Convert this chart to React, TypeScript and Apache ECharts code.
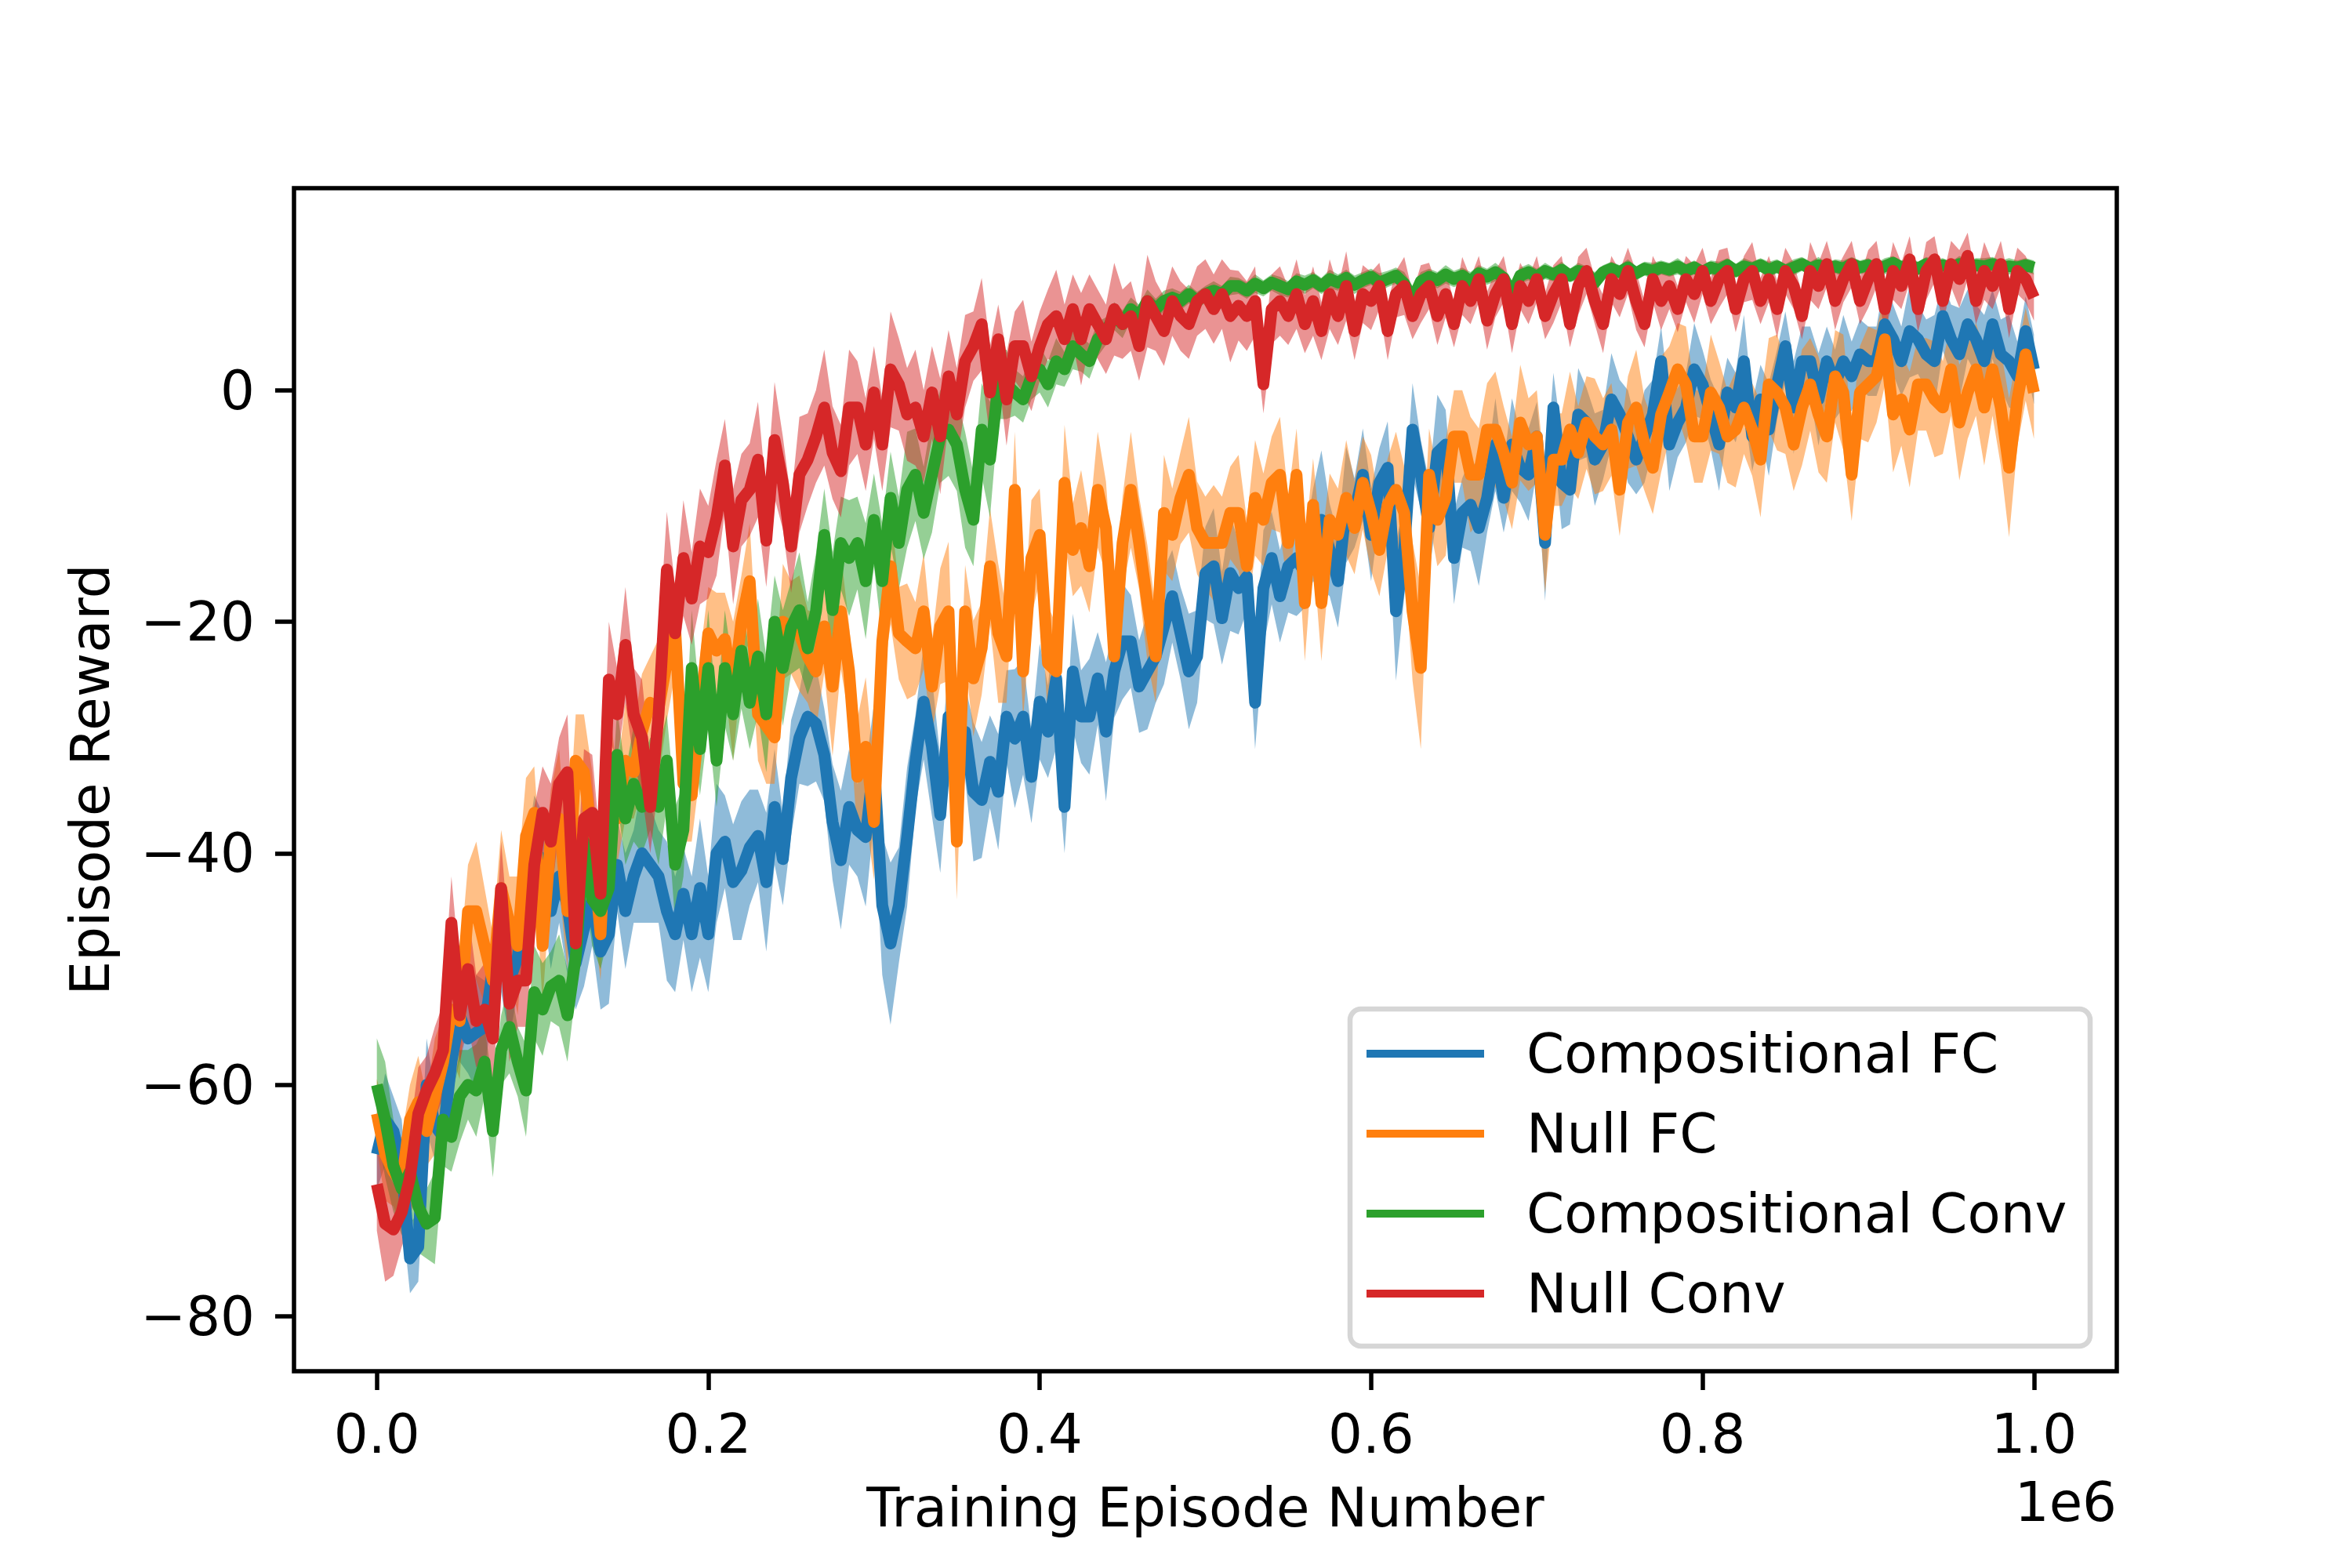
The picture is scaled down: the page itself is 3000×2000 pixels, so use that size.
import React, { useEffect, useRef } from 'react';
import * as echarts from 'echarts';

// Episode numbers: 0 .. 1,000,000 in steps of 5,000
const episodes: number[] = Array.from({ length: 201 }, (_, i) => i * 5000);

const seriesNames = ['Compositional FC', 'Null FC', 'Compositional Conv', 'Null Conv'];
const lineColors = ['#1f77b4', '#ff7f0e', '#2ca02c', '#d62728'];
const bandColors = ['rgba(31,119,180,0.5)', 'rgba(255,127,14,0.5)', 'rgba(44,160,44,0.5)', 'rgba(214,39,40,0.5)'];

const xTicks = [0, 200000, 400000, 600000, 800000, 1000000];
const yTicks = [-80, -60, -40, -20, 0];

// Compositional FC (blue) mean reward
const compFC: number[] = [
  -66, -63, -64, -67, -75, -74, -60, -63.5, -64.5, -58,
  -54, -56, -55.5, -55, -50, -48, -51, -49, -44, -40,
  -40.5, -45, -42, -44.5, -49.5, -46.5, -44, -48.5, -47, -41,
  -45, -42, -40, -41, -42, -45, -47, -43.5, -47, -43,
  -47, -40, -39, -42.5, -41.5, -39.5, -38.5, -42.5, -36, -40.5,
  -33.5, -30, -28.2, -28.8, -31.5, -37.3, -40.6, -36, -38, -38.6,
  -32.1, -44.5, -47.8, -44.5, -38.6, -32.1, -26.9, -30.8, -36.7, -28.2,
  -34.1, -29.5, -34.7, -35.4, -32.1, -34.7, -28.2, -30.1, -28.2, -33.4,
  -26.9, -29.5, -24.9, -36, -24.3, -28.2, -28.2, -24.9, -29.5, -24.3,
  -21.7, -21.7, -25.6, -24.3, -23, -20.4, -17.8, -21, -24.3, -23,
  -15.8, -15.2, -19.7, -15.8, -17.1, -16.1, -27, -17.1, -14.5, -17.8,
  -15.2, -14.5, -15.8, -12.5, -11.2, -13.8, -16.5, -9.9, -10.6, -7.3,
  -12.5, -8, -6.7, -19.1, -13.8, -3.4, -7.3, -11.9, -5.4, -4.7,
  -14.5, -10.6, -9.9, -11.9, -9.3, -4.7, -9.3, -4.7, -6.7, -7.3,
  -4, -13.2, -1.5, -8, -8.6, -2.1, -2.8, -6, -4.7, -0.8,
  -2.1, -4, -6, -4, -2.1, 2.5, -4.7, -2.8, -1.5, 1.8,
  0.5, -2.1, -4.7, -0.2, -1.5, 2.5, -4, -0.8, -3.4, 0.5,
  3.8, -1.5, 2.5, 2.5, -0.8, 2.5, 0.5, 2.5, 1.2, 3.1,
  2.5, 2.5, 5.7, 4.4, 2.5, 5.1, 4.4, 3.1, 2.5, 6.4,
  4.4, 3.1, 5.7, 4.4, 2.5, 5.7, 3.1, 2.5, 1.2, 5.1,
  1.8,
];
const compFCStd: number[] = [
  3, 4, 3, 4, 3, 3, 4, 3, 4, 3,
  4, 3, 5, 4, 3, 4, 5, 3, 4, 5,
  4, 5, 4, 6, 4, 5, 4, 5, 6, 4,
  5, 4, 6, 5, 4, 6, 5, 4, 5, 6,
  5, 6, 4, 5, 6, 5, 4, 6, 5, 4,
  5, 4, 6, 5, 4, 5, 6, 5, 4, 6,
  5, 6, 7, 5, 6, 4, 5, 6, 5, 4,
  5, 4, 6, 5, 4, 5, 4, 6, 5, 4,
  5, 4, 6, 4, 5, 4, 5, 4, 6, 4,
  5, 4, 4, 5, 4, 5, 4, 4, 5, 4,
  4, 5, 4, 5, 4, 3, 4, 5, 4, 4,
  4, 5, 3, 4, 6, 4, 4, 5, 3, 4,
  4, 3, 4, 6, 4, 4, 3, 4, 5, 3,
  4, 3, 4, 5, 3, 4, 3, 4, 3, 4,
  3, 5, 3, 4, 3, 4, 3, 4, 3, 4,
  3, 4, 3, 4, 3, 3, 4, 3, 3, 4,
  3, 3, 4, 3, 3, 4, 3, 3, 4, 3,
  3, 4, 3, 3, 4, 3, 3, 4, 3, 3,
  3, 3, 4, 3, 3, 4, 3, 3, 4, 3,
  3, 4, 3, 3, 4, 3, 3, 4, 3, 3,
  3,
];

// Null FC (orange) mean reward
const nullFC: number[] = [
  -62.5, -66, -67.5, -68.5, -63, -61.5, -64, -61, -58, -53.5,
  -54.5, -45, -45, -48, -51, -43, -46, -48, -38.5, -36.5,
  -48, -38.5, -37, -45, -32, -33, -39, -47, -32, -37,
  -32, -33, -29.5, -27, -27.5, -23.5, -20.5, -34, -35, -28,
  -21, -22.5, -21.5, -26, -20, -16.5, -28, -29, -30, -20,
  -20.5, -21, -23, -24.3, -20.4, -25.6, -19.1, -24.3, -33.4, -30.8,
  -37.3, -21.7, -15.2, -21, -21.7, -22.3, -19.1, -25.6, -20.4, -19.1,
  -39, -19.1, -24.9, -22.3, -15.2, -21, -23, -8.6, -24.3, -14.5,
  -12.5, -23.6, -24.3, -8, -13.8, -11.9, -15.2, -8.6, -11.9, -23,
  -13.2, -8.6, -13.2, -18.4, -23, -10.6, -12.5, -9.3, -7.3, -11.9,
  -13.2, -13.2, -13.2, -10.6, -10.6, -15.2, -9.3, -11.2, -8, -7.3,
  -13.2, -7.3, -18.4, -9.9, -18.4, -11.2, -12.5, -9.3, -11.9, -8,
  -10.6, -13.8, -9.9, -8.6, -10.6, -19.1, -24, -7.3, -11.2, -9.3,
  -4, -4, -7.3, -7.3, -3.4, -3.4, -5.4, -8, -2.8, -4.7,
  -4, -12.5, -6, -6, -3.4, -5.4, -2.8, -4, -4.7, -3.4,
  -8.6, -2.8, -1.5, -4.7, -6.7, -2.1, -0.2, 1.8, 0.5, -4,
  -4, -0.2, -1.5, -4, -3.4, -1.5, -3.4, -6, 0.5, -0.2,
  -1.5, -4.7, -1.5, 0.5, -2.1, -4, 1.2, -0.2, -7.3, -0.2,
  0.5, 1.2, 4.4, -2.1, -0.8, -3.4, 0.5, 0.5, -0.8, -1.5,
  1.8, -2.8, -0.2, 1.8, -1.5, 1.8, -1.5, -6.7, -0.8, 3.1,
  -0.2,
];
const nullFCStd: number[] = [
  3, 4, 3, 4, 3, 4, 3, 5, 4, 4,
  5, 4, 6, 5, 4, 5, 4, 6, 5, 4,
  5, 4, 6, 5, 4, 5, 6, 4, 5, 4,
  5, 4, 5, 4, 6, 5, 4, 5, 4, 5,
  4, 5, 4, 6, 4, 5, 4, 5, 4, 5,
  4, 5, 4, 5, 4, 6, 5, 4, 5, 6,
  5, 4, 5, 4, 5, 4, 5, 4, 5, 6,
  5, 4, 5, 4, 5, 6, 4, 5, 4, 5,
  4, 5, 4, 5, 4, 5, 4, 5, 4, 5,
  4, 5, 4, 5, 4, 5, 4, 4, 5, 4,
  4, 5, 4, 4, 5, 4, 5, 4, 4, 5,
  4, 4, 5, 4, 5, 4, 4, 5, 4, 4,
  5, 4, 4, 5, 4, 6, 7, 4, 4, 5,
  4, 4, 5, 4, 4, 5, 4, 4, 5, 4,
  4, 5, 4, 4, 5, 4, 4, 5, 4, 4,
  4, 4, 5, 4, 4, 5, 4, 4, 5, 4,
  4, 5, 4, 4, 5, 4, 4, 5, 4, 5,
  4, 4, 5, 4, 5, 4, 4, 5, 4, 4,
  5, 4, 4, 5, 4, 5, 4, 4, 5, 4,
  4, 5, 4, 4, 5, 4, 5, 6, 4, 4,
  4,
];

// Compositional Conv (green) mean reward
const compConv: number[] = [
  -60, -63, -67, -69, -67.5, -70.5, -72, -71.5, -63, -64.5,
  -61, -60, -60.5, -58, -64, -57, -55, -58, -60.5, -52,
  -53.5, -51.5, -51, -54, -49, -39, -44, -45, -43, -31.5,
  -37, -34, -36, -34, -36, -32, -41, -38, -24, -31,
  -24, -32, -24, -28, -22.5, -27, -23, -28, -20, -24,
  -20.5, -19, -22.3, -19.1, -12.5, -19, -13.2, -14.5, -13.2, -16.5,
  -11.2, -16.5, -9.3, -13.2, -8.6, -7.3, -10.6, -7.3, -4, -3.4,
  -4.7, -8.6, -11.2, -3.4, -6, 0.5, 0.5, -0.2, -0.8, 1.2,
  1.8, 0.5, 2.5, 1.8, 3.8, 3.1, 2.5, 4.4, 5.1, 6.4,
  5.7, 7, 6.4, 7.7, 7, 7.7, 8, 7.7, 8.3, 7.7,
  8.3, 8.6, 8.3, 9, 9, 8.6, 9.2, 8.8, 9.3, 9,
  8.7, 9.4, 9.1, 9.5, 9, 9.6, 9.3, 9.7, 9.1, 9.5,
  9.8, 9.3, 9.6, 9.9, 9.2, 7.8, 9.4, 9.8, 9.5, 10,
  9.6, 9.9, 9.4, 10.1, 9.8, 10.2, 9.7, 8.3, 9.9, 10.2,
  9.8, 10.3, 10, 10.4, 9.9, 10.3, 10.1, 9.3, 10.2, 10.5,
  10.2, 10.6, 10.1, 10.5, 10.3, 10.6, 10.4, 10.7, 10.3, 10.6,
  10.2, 10.6, 10.4, 10.8, 10.3, 10.7, 10.5, 10.8, 10.4, 10.7,
  10.3, 10.6, 10.9, 10.5, 10.8, 10.4, 10.7, 10.5, 10.9, 10.6,
  10.8, 10.4, 10.7, 11, 10.6, 10.8, 10.5, 10.9, 10.6, 10.8,
  10.5, 10.9, 10.6, 10.8, 10.7, 10.9, 10.6, 10.7, 10.6, 10.8,
  10.6,
];
const compConvStd: number[] = [
  4, 5, 4, 4, 3, 4, 3, 4, 4, 3,
  4, 3, 4, 3, 4, 3, 4, 3, 4, 4,
  4, 3, 4, 4, 3, 4, 4, 5, 4, 4,
  4, 5, 4, 4, 5, 4, 5, 4, 5, 4,
  5, 4, 5, 4, 5, 4, 5, 5, 4, 5,
  4, 5, 4, 5, 4, 5, 4, 5, 4, 5,
  4, 5, 4, 4, 5, 4, 4, 5, 4, 4,
  4, 5, 4, 4, 5, 3, 3, 2, 2, 2,
  2, 2, 2, 1.5, 2, 1.5, 1.5, 1.5, 1.2, 1.2,
  1.2, 1, 1, 1, 0.9, 0.9, 0.8, 0.8, 0.8, 0.8,
  0.7, 0.8, 0.7, 0.8, 0.7, 0.7, 0.8, 0.7, 0.7, 0.8,
  0.7, 0.7, 0.8, 0.7, 0.7, 0.8, 0.7, 0.7, 0.8, 0.7,
  0.7, 0.8, 0.7, 0.7, 1, 1.2, 0.8, 0.7, 0.7, 0.8,
  0.7, 0.7, 0.8, 0.7, 0.7, 0.8, 0.7, 1, 0.7, 0.7,
  0.7, 0.7, 0.6, 0.7, 0.6, 0.7, 0.6, 0.9, 0.6, 0.6,
  0.6, 0.7, 0.6, 0.6, 0.7, 0.6, 0.6, 0.7, 0.6, 0.6,
  0.6, 0.6, 0.7, 0.6, 0.6, 0.7, 0.6, 0.6, 0.7, 0.6,
  0.6, 0.7, 0.6, 0.6, 0.7, 0.6, 0.6, 0.7, 0.6, 0.6,
  0.6, 0.6, 0.7, 0.6, 0.6, 0.7, 0.6, 0.6, 0.7, 0.6,
  0.6, 0.7, 0.6, 0.6, 0.7, 0.6, 0.6, 0.7, 0.6, 0.6,
  0.6,
];

// Null Conv (red) mean reward
const nullConv: number[] = [
  -68.6, -72, -72.5, -71, -68, -62.5, -60.5, -59, -57, -46,
  -54, -50, -54.5, -53.5, -56, -43, -53, -51, -51, -41,
  -36.5, -39, -34, -33, -47.8, -37, -36.5, -43.5, -25, -28,
  -22, -28, -30, -36, -28, -15.5, -21, -14.5, -18, -13.5,
  -14, -11, -6.5, -13.5, -9.5, -8.6, -6, -13, -4.3, -8,
  -13.5, -7.3, -6, -4, -1.5, -5.4, -7, -1.5, -1.5, -4.7,
  -0.2, -4.7, 1.8, 0.5, -2.1, -1.5, -4, -0.2, -4, 1.2,
  -2.1, 2.5, 3.8, 5.7, -0.2, 4.4, -0.8, 3.8, 3.8, 1.2,
  3.8, 5.7, 6.4, 4.4, 7, 4.4, 7, 5.7, 4.4, 7,
  5.7, 6.4, 3.8, 7.7, 6.4, 5.1, 7.7, 6.4, 5.7, 7.7,
  8.3, 7, 8.3, 6.4, 7.3, 6.4, 7.7, 0.5, 7, 7.7,
  6.4, 8.3, 5.7, 7.7, 5.1, 8.3, 6.4, 9, 5.1, 8.3,
  7.7, 9, 5.1, 8.3, 9, 6.4, 8.3, 9, 6.4, 8.3,
  5.7, 9, 7.7, 9.6, 6, 8.3, 9.6, 5.7, 9, 7.7,
  9.6, 6.4, 8.3, 9.6, 5.7, 9, 10.3, 7.7, 5.7, 9.6,
  8.3, 10.3, 7.7, 5.7, 9.6, 7.7, 9, 7, 9.6, 8.3,
  10.3, 7.7, 9.6, 10.3, 7, 9.6, 10.3, 7.7, 9.6, 7,
  10.3, 9, 6.4, 10.3, 9, 10.9, 7.7, 9.6, 10.9, 7.7,
  9.6, 10.9, 7, 10.3, 9, 11.3, 7, 10.3, 11.3, 7.7,
  10.9, 9.6, 11.6, 7.7, 10.3, 9, 10.9, 7, 10.3, 9.6,
  8,
];
const nullConvStd: number[] = [
  4, 5, 4, 3, 4, 4, 3, 4, 4, 4,
  4, 5, 4, 4, 5, 4, 5, 4, 4, 5,
  4, 5, 4, 5, 4, 6, 5, 4, 5, 4,
  5, 4, 5, 4, 6, 5, 4, 5, 4, 5,
  4, 5, 4, 5, 4, 4, 5, 4, 5, 4,
  4, 5, 4, 4, 5, 4, 4, 5, 4, 4,
  4, 4, 5, 4, 4, 5, 4, 4, 5, 4,
  4, 4, 3, 4, 4, 3, 4, 3, 4, 3,
  3, 3, 4, 3, 3, 4, 3, 3, 3, 4,
  3, 3, 3, 4, 3, 3, 3, 3, 3, 3,
  3, 3, 3, 4, 3, 3, 3, 2.5, 3, 3,
  2.5, 3, 2.5, 3, 2.5, 3, 2.5, 3, 2.5, 2.5,
  2.5, 2, 2.5, 2, 2.5, 2, 2.5, 2, 2.5, 2,
  2, 2.5, 2, 2, 2.5, 2, 2, 2.5, 2, 2,
  2, 2, 2.5, 2, 2, 2.5, 2, 2, 2.5, 2,
  2, 2, 2.5, 2, 2, 2.5, 2, 2, 2, 2.5,
  2, 2, 2.5, 2, 2, 2, 2.5, 2, 2, 2.5,
  2, 2, 2, 2.5, 2, 2, 2.5, 2, 2, 2,
  2.5, 2, 2, 2.5, 2, 2, 2, 2.5, 2, 2,
  2, 2.5, 2, 2, 2.5, 2, 2, 2.5, 2, 2,
  2,
];

const means = [compFC, nullFC, compConv, nullConv];
const stds = [compFCStd, nullFCStd, compConvStd, nullConvStd];

const FONT = 'DejaVu Sans';
const FS = 69;

function minus(v: number): string {
  return v < 0 ? '\u2212' + Math.abs(v) : String(v);
}

function bandSeries(idx: number) {
  const mean = means[idx];
  const sd = stds[idx];
  return {
    type: 'custom',
    name: seriesNames[idx] + ' band',
    silent: true,
    z: 1,
    clip: true,
    data: [[0, 0]],
    renderItem: (_params: any, api: any) => {
      const upper = mean.map((m, i) => api.coord([episodes[i], m + sd[i]]));
      const lower = mean.map((m, i) => api.coord([episodes[i], m - sd[i]])).reverse();
      return {
        type: 'polygon',
        shape: { points: upper.concat(lower) },
        style: { fill: bandColors[idx], stroke: 'none' },
      };
    },
  };
}

function lineSeries(idx: number) {
  return {
    type: 'line',
    name: seriesNames[idx],
    data: means[idx].map((m, i) => [episodes[i], m]),
    showSymbol: false,
    symbol: 'none',
    silent: true,
    z: 2,
    lineStyle: { width: 15, color: lineColors[idx], join: 'round', cap: 'butt' },
    itemStyle: { color: lineColors[idx] },
  };
}

export default function App() {
  const ref = useRef<HTMLDivElement>(null);
  useEffect(() => {
    if (!ref.current) return;
    const chart = echarts.init(ref.current, undefined, { renderer: 'svg' });
    const option: any = {
      animation: false,
      backgroundColor: '#ffffff',
      grid: {
        show: true,
        left: 375,
        right: 300,
        top: 240,
        bottom: 251,
        borderColor: '#000000',
        borderWidth: 5.5,
        backgroundColor: 'transparent',
      },
      xAxis: {
        type: 'value',
        min: -50000,
        max: 1050000,
        axisLine: { show: false, onZero: false },
        splitLine: { show: false },
        axisTick: {
          show: true,
          inside: false,
          length: 24,
          customValues: xTicks,
          lineStyle: { color: '#000', width: 5.5 },
        },
        axisLabel: {
          customValues: xTicks,
          margin: 45,
          fontSize: FS,
          fontFamily: FONT,
          color: '#000',
          formatter: (v: number) => (v / 1e6).toFixed(1),
        },
      },
      yAxis: {
        type: 'value',
        min: -84.74,
        max: 17.45,
        axisLine: { show: false, onZero: false },
        splitLine: { show: false },
        axisTick: {
          show: true,
          inside: false,
          length: 24,
          customValues: yTicks,
          lineStyle: { color: '#000', width: 5.5 },
        },
        axisLabel: {
          customValues: yTicks,
          margin: 50,
          fontSize: FS,
          fontFamily: FONT,
          color: '#000',
          formatter: (v: number) => minus(v),
        },
      },
      legend: {
        data: seriesNames,
        orient: 'vertical',
        left: 1743,
        top: 1304,
        padding: 0,
        itemWidth: 150,
        itemHeight: 10,
        itemGap: 22,
        icon: 'rect',
        selectedMode: false,
        z: 10,
        textStyle: {
          fontSize: FS,
          fontFamily: FONT,
          color: '#000',
          lineHeight: 80,
          padding: [0, 0, 0, 49],
        },
      },
      graphic: [
        {
          type: 'rect',
          z: 5,
          shape: { x: 1722, y: 1287, width: 944, height: 430, r: 14 },
          style: { fill: 'rgba(255,255,255,0.8)', stroke: '#d6d6d6', lineWidth: 6.5 },
        },
        {
          type: 'text',
          x: 1537.5,
          y: 1923,
          z: 5,
          style: {
            text: 'Training Episode Number',
            fontSize: FS,
            fontFamily: FONT,
            fill: '#000',
            align: 'center',
            verticalAlign: 'middle',
            textAlign: 'center',
            textVerticalAlign: 'middle',
          },
        },
        {
          type: 'text',
          x: 115,
          y: 994.5,
          rotation: Math.PI / 2,
          z: 5,
          style: {
            text: 'Episode Reward',
            fontSize: FS,
            fontFamily: FONT,
            fill: '#000',
            align: 'center',
            verticalAlign: 'middle',
            textAlign: 'center',
            textVerticalAlign: 'middle',
          },
        },
        {
          type: 'text',
          x: 2700,
          y: 1916,
          z: 5,
          style: {
            text: '1e6',
            fontSize: FS,
            fontFamily: FONT,
            fill: '#000',
            align: 'right',
            verticalAlign: 'middle',
            textAlign: 'right',
            textVerticalAlign: 'middle',
          },
        },
      ],
      series: [
        bandSeries(0),
        bandSeries(1),
        bandSeries(2),
        bandSeries(3),
        lineSeries(0),
        lineSeries(1),
        lineSeries(2),
        lineSeries(3),
      ],
    };
    chart.setOption(option);
    return () => chart.dispose();
  }, []);
  return (
    <div
      ref={ref}
      style={{ position: 'fixed', left: 0, top: 0, width: 3000, height: 2000, background: '#fff' }}
    />
  );
}
